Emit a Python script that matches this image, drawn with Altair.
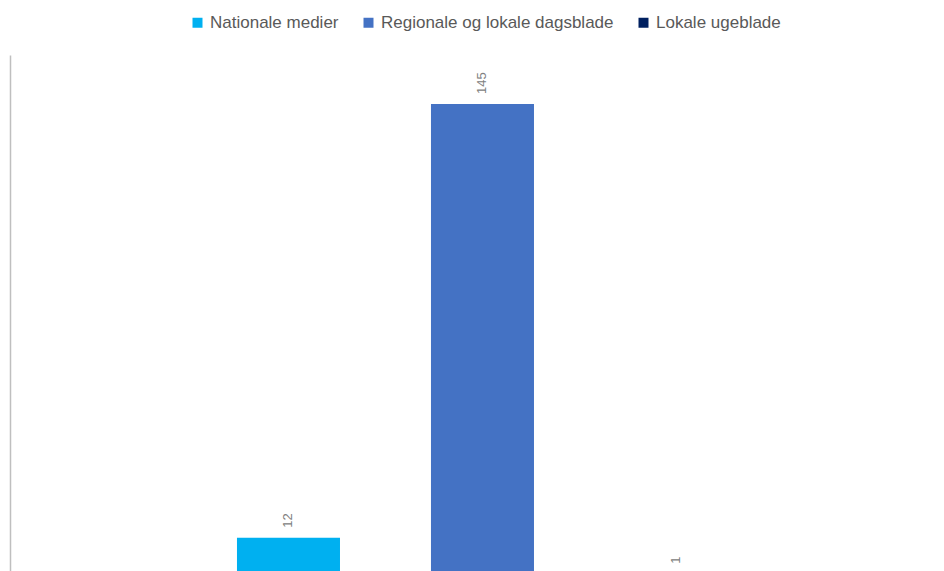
import altair as alt
import pandas as pd

categories = ["Nationale medier", "Regionale og lokale dagsblade", "Lokale ugeblade"]
values = [12, 145, 1]
colors = ["#00B0F0", "#4472C4", "#002060"]

df = pd.DataFrame({"kategori": categories, "antal": values})

x = alt.X("kategori:N", sort=categories, axis=None,
          scale=alt.Scale(paddingInner=0.469, paddingOuter=1, align=0.585))
y = alt.Y("antal:Q", scale=alt.Scale(domain=[0, 160], nice=False),
          axis=alt.Axis(labels=False, ticks=False, grid=False, title=None,
                        domainColor="#BFBFBF", domainWidth=1.5))

bars = alt.Chart(df).mark_bar().encode(
    x=x, y=y,
    color=alt.Color("kategori:N", sort=categories,
                    scale=alt.Scale(domain=categories, range=colors),
                    legend=alt.Legend(orient="none", legendX=179, legendY=-41,
                                      direction="horizontal", title=None, symbolType="square",
                                      symbolSize=100, symbolStrokeWidth=0,
                                      labelFontSize=17, labelColor="#595959",
                                      labelFont="Liberation Sans", columnPadding=21,
                                      labelOffset=4, labelLimit=400))
)

labels = alt.Chart(df).mark_text(angle=270, align="left", baseline="middle", dx=10,
                                 fontSize=13, color="#808080", font="Liberation Sans").encode(
    x=x, y=y, text="antal:Q"
)

chart = alt.layer(bars, labels).properties(
    width=879, height=522,
    padding={"left": 2, "top": 6, "right": 0, "bottom": 0}
).configure_view(stroke=None)

chart.save("out.html", embed_options={"renderer": "svg", "actions": False})
